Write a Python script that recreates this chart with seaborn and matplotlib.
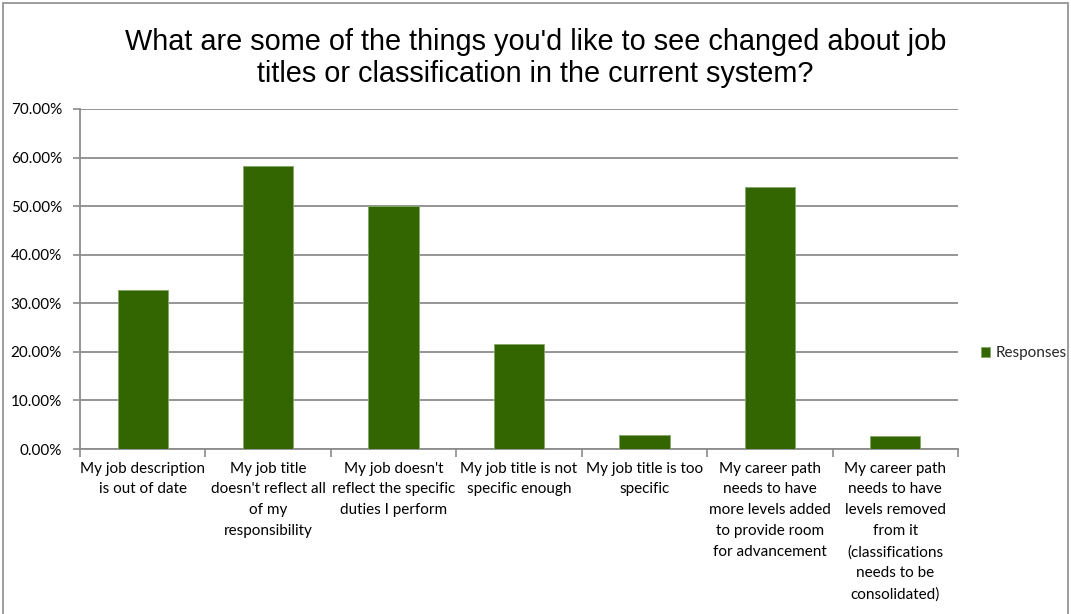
import matplotlib
matplotlib.use("Agg")
import matplotlib.pyplot as plt
from matplotlib.patches import Rectangle
from matplotlib.ticker import FuncFormatter, FixedLocator
import seaborn as sns
import pandas as pd

categories = [
    "My job description\nis out of date",
    "My job title\ndoesn't reflect all\nof my\nresponsibility",
    "My job doesn't\nreflect the specific\nduties I perform",
    "My job title is not\nspecific enough",
    "My job title is too\nspecific",
    "My career path\nneeds to have\nmore levels added\nto provide room\nfor advancement",
    "My career path\nneeds to have\nlevels removed\nfrom it\n(classifications\nneeds to be\nconsolidated)",
]
responses = [0.327, 0.583, 0.500, 0.216, 0.029, 0.540, 0.027]
series = ["Responses"] * len(categories)

df = pd.DataFrame({"category": categories, "value": responses, "series": series})

sns.set_theme(style="white")
plt.rcParams["font.family"] = ["Lato", "DejaVu Sans"]

fig = plt.figure(figsize=(10.71, 6.14), dpi=100)
ax = fig.add_axes([0.0747, 0.2687, 0.8198, 0.5538])

sns.barplot(data=df, x="category", y="value", hue="series",
            palette=["#336600"], saturation=1, width=0.4, ax=ax,
            edgecolor="#86a86a", linewidth=0.6, zorder=3)

ax.set_ylim(0, 0.70)
ax.set_xlim(-0.5, len(categories) - 0.5)
ax.yaxis.set_major_locator(FixedLocator([i / 10 for i in range(8)]))
ax.yaxis.set_major_formatter(FuncFormatter(lambda v, _: f"{v * 100:.2f}%"))
ax.grid(axis="y", color="#8c8c8c", linewidth=1.3, zorder=0)
ax.set_axisbelow(True)

ax.set_xlabel("")
ax.set_ylabel("")
ax.tick_params(axis="x", which="major", length=0, pad=9, labelsize=11, colors="black")
ax.tick_params(axis="y", which="major", length=5, width=1.2, color="#8c8c8c",
               labelsize=11, pad=8, left=True, labelcolor="black")
ax.set_xticks([i - 0.5 for i in range(len(categories) + 1)], minor=True)
ax.tick_params(axis="x", which="minor", length=6, width=1.2, color="#8c8c8c",
               bottom=True, direction="out")
for lbl in ax.get_xticklabels():
    lbl.set_horizontalalignment("center")
    lbl.set_verticalalignment("top")
    lbl.set_linespacing(1.62)

for side in ["top", "right"]:
    ax.spines[side].set_visible(False)
for side in ["left", "bottom"]:
    ax.spines[side].set_color("#8c8c8c")
    ax.spines[side].set_linewidth(1.3)

leg = ax.legend(loc="center left", bbox_to_anchor=(1.01, 0.282), frameon=False,
                handlelength=0.65, handleheight=0.65, handletextpad=0.35,
                fontsize=11)

fig.suptitle("What are some of the things you'd like to see changed about job\n"
             "titles or classification in the current system?",
             y=0.955, fontsize=20.8, color="black",
             family=["Liberation Sans", "DejaVu Sans"], linespacing=1.2)

fig.patches.append(Rectangle((0.003, -0.01), 0.994, 1.005, transform=fig.transFigure,
                             fill=False, edgecolor="#8c8c8c", linewidth=1.2))

fig.savefig("out.png", dpi=100)
